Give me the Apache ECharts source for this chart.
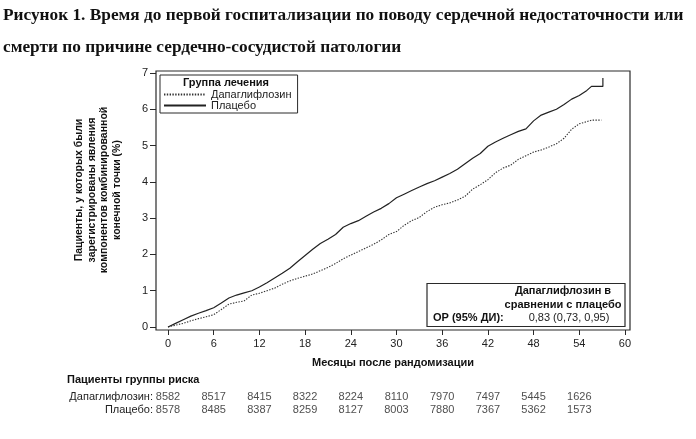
<!DOCTYPE html>
<html>
<head>
<meta charset="utf-8">
<script src="https://cdn.jsdelivr.net/npm/echarts@6/dist/echarts.min.js"></script>
<style>html,body{margin:0;padding:0;background:#fff}#c{width:696px;height:439px}</style>
</head>
<body>
<div id="c"></div>
<script>
const titleText = 'Рисунок 1. Время до первой госпитализации по поводу сердечной недостаточности или\nсмерти по причине сердечно-сосудистой патологии';
const xTicks = [0, 6, 12, 18, 24, 30, 36, 42, 48, 54, 60];
const yTicks = [0, 1, 2, 3, 4, 5, 6, 7];
const seriesNames = ['Дапаглифлозин', 'Плацебо'];

const placeboMonths = [0,1,2,3,4,5,6,7,8,9,10,11,12,13,14,15,16,17,18,19,20,21,22,23,24,25,26,27,28,29,30,31,32,33,34,35,36,37,38,39,40,41,42,43,44,45,46,47,48,49,50,51,52,53,54,55,55.6,57.1,57.1];
const placeboPct = [0,0.10,0.20,0.30,0.38,0.45,0.53,0.66,0.80,0.88,0.94,1.00,1.10,1.22,1.35,1.48,1.62,1.80,1.97,2.14,2.30,2.42,2.55,2.75,2.85,2.93,3.05,3.17,3.27,3.40,3.56,3.66,3.76,3.86,3.95,4.03,4.13,4.23,4.35,4.50,4.65,4.78,4.98,5.10,5.20,5.30,5.39,5.46,5.68,5.84,5.92,6.00,6.13,6.28,6.38,6.52,6.63,6.63,6.86];

const dapaMonths = [0,1,2,3,4,5,6,7,8,9,10,11,12,13,14,15,16,17,18,19,20,21,22,23,24,25,26,27,28,29,30,31,32,33,34,35,36,37,38,39,40,41,42,43,44,45,46,47,48,49,50,51,52,53,54,55,55.6,56.9];
const dapaPct = [0,0.05,0.10,0.17,0.23,0.28,0.34,0.48,0.63,0.68,0.72,0.88,0.93,1.00,1.07,1.18,1.27,1.34,1.40,1.46,1.55,1.64,1.75,1.88,1.98,2.08,2.18,2.28,2.40,2.55,2.63,2.80,2.93,3.02,3.18,3.30,3.37,3.42,3.50,3.60,3.80,3.92,4.06,4.25,4.38,4.46,4.62,4.72,4.82,4.88,4.96,5.05,5.20,5.45,5.60,5.66,5.70,5.70];

const riskMonths = [0, 6, 12, 18, 24, 30, 36, 42, 48, 54];
const riskDapa = [8582, 8517, 8415, 8322, 8224, 8110, 7970, 7497, 5445, 1626];
const riskPlacebo = [8578, 8485, 8387, 8259, 8127, 8003, 7880, 7367, 5362, 1573];
const riskRows = ['Плацебо:', 'Дапаглифлозин:'];

const yAxisTitle = 'Пациенты, у которых были\nзарегистрированы явления\nкомпонентов комбинированной\nконечной точки (%)';
const xAxisTitle = 'Месяцы после рандомизации';
const riskTitle = 'Пациенты группы риска';
const legendTitle = 'Группа лечения';
const hrLines = ['Дапаглифлозин в', 'сравнении с плацебо'];
const hrLabel = 'ОР (95% ДИ):';
const hrValue = '0,83 (0,73, 0,95)';

const FONT = '"Liberation Sans", Arial, sans-serif';
const TXT = '#222';
const LINE = '#2a2a2a';

const zip = (a, b) => a.map((v, i) => [v, b[i]]);
const riskData = [];
riskMonths.forEach((m, i) => {
  riskData.push([m, 1, riskDapa[i]]);
  riskData.push([m, 0, riskPlacebo[i]]);
});

const X_MIN = -1.575, X_MAX = 60.66;

const chart = echarts.init(document.getElementById('c'), null, {renderer: 'canvas'});
chart.setOption({
  animation: false,
  backgroundColor: '#fff',
  title: {
    text: titleText, left: 3, top: 0, padding: 0,
    textStyle: {fontFamily: '"Liberation Serif", "Times New Roman", serif', fontWeight: 'bold', fontSize: 17.3, lineHeight: 32, color: '#111'}
  },
  grid: [
    {left: 156, right: 66, top: 71, bottom: 109, containLabel: false, show: true, borderColor: LINE, borderWidth: 1.2, backgroundColor: 'transparent'},
    {left: 156, right: 66, top: 390.5, bottom: 22.5, containLabel: false}
  ],
  xAxis: [
    {
      gridIndex: 0, type: 'value', min: X_MIN, max: X_MAX,
      axisLine: {show: false, onZero: false},
      axisTick: {show: true, length: 5, customValues: xTicks, lineStyle: {color: LINE, width: 1}},
      axisLabel: {color: TXT, fontFamily: FONT, fontSize: 11, margin: 8, customValues: xTicks},
      splitLine: {show: false},
      name: xAxisTitle, nameLocation: 'middle', nameGap: 27,
      nameTextStyle: {color: '#111', fontFamily: FONT, fontSize: 11, fontWeight: 'bold'}
    },
    {
      gridIndex: 1, type: 'value', min: X_MIN, max: X_MAX, show: false
    }
  ],
  yAxis: [
    {
      gridIndex: 0, type: 'value', min: -0.083, max: 7.055,
      axisLine: {show: false, onZero: false},
      axisTick: {show: true, length: 6, customValues: yTicks, lineStyle: {color: LINE, width: 1}},
      axisLabel: {color: TXT, fontFamily: FONT, fontSize: 11, margin: 8, customValues: yTicks},
      splitLine: {show: false}
    },
    {
      gridIndex: 1, type: 'category', data: riskRows,
      axisLine: {show: false, onZero: false}, axisTick: {show: false}, splitLine: {show: false},
      axisLabel: {color: TXT, fontFamily: FONT, fontSize: 11, margin: 3, interval: 0}
    }
  ],
  legend: {
    orient: 'vertical', left: 160, top: 75,
    padding: [14, 6, 2, 3], itemGap: 0, itemWidth: 42, itemHeight: 12,
    borderColor: LINE, borderWidth: 1,
    data: seriesNames,
    itemStyle: {color: 'rgba(0,0,0,0)', borderWidth: 0, opacity: 0},
    textStyle: {color: TXT, fontFamily: FONT, fontSize: 11, padding: [0, 0, 0, 0]}
  },
  series: [
    {
      name: seriesNames[0], type: 'line', xAxisIndex: 0, yAxisIndex: 0,
      data: zip(dapaMonths, dapaPct), symbol: 'none',
      lineStyle: {color: '#333', width: 1.1, type: [1.4, 1.4]}, itemStyle: {color: '#333'}
    },
    {
      name: seriesNames[1], type: 'line', xAxisIndex: 0, yAxisIndex: 0,
      data: zip(placeboMonths, placeboPct), symbol: 'none',
      lineStyle: {color: '#222', width: 1.2, type: 'solid'}, itemStyle: {color: '#222'}
    },
    {
      name: 'risk', type: 'scatter', xAxisIndex: 1, yAxisIndex: 1,
      data: riskData, symbolSize: 1, itemStyle: {color: 'rgba(0,0,0,0)'},
      label: {show: true, position: 'inside', formatter: p => String(p.value[2]), color: TXT, fontFamily: FONT, fontSize: 11},
      silent: true
    }
  ],
  graphic: [
    {type: 'text', x: 226, y: 83, style: {text: legendTitle, font: 'bold 11px ' + FONT, fill: '#111', align: 'center', verticalAlign: 'middle'}},
    {type: 'text', x: 98, y: 190, rotation: Math.PI / 2, style: {text: yAxisTitle, font: 'bold 10.5px ' + FONT, lineHeight: 12.5, fill: '#111', align: 'center', verticalAlign: 'middle'}},
    {type: 'text', x: 67, y: 380, style: {text: riskTitle, font: 'bold 11px ' + FONT, fill: '#111', align: 'left', verticalAlign: 'middle'}},
    {type: 'rect', shape: {x: 427, y: 283.5, width: 198, height: 43}, style: {fill: '#fff', stroke: LINE, lineWidth: 1.2}, z: 10},
    {type: 'text', x: 563, y: 291, z: 11, style: {text: hrLines[0], font: 'bold 11px ' + FONT, fill: '#111', align: 'center', verticalAlign: 'middle'}},
    {type: 'text', x: 563, y: 304.5, z: 11, style: {text: hrLines[1], font: 'bold 11px ' + FONT, fill: '#111', align: 'center', verticalAlign: 'middle'}},
    {type: 'text', x: 433, y: 318, z: 11, style: {text: hrLabel, font: 'bold 11px ' + FONT, fill: '#111', align: 'left', verticalAlign: 'middle'}},
    {type: 'text', x: 569, y: 318, z: 11, style: {text: hrValue, font: '11px ' + FONT, fill: TXT, align: 'center', verticalAlign: 'middle'}}
  ]
});
</script>
</body>
</html>
